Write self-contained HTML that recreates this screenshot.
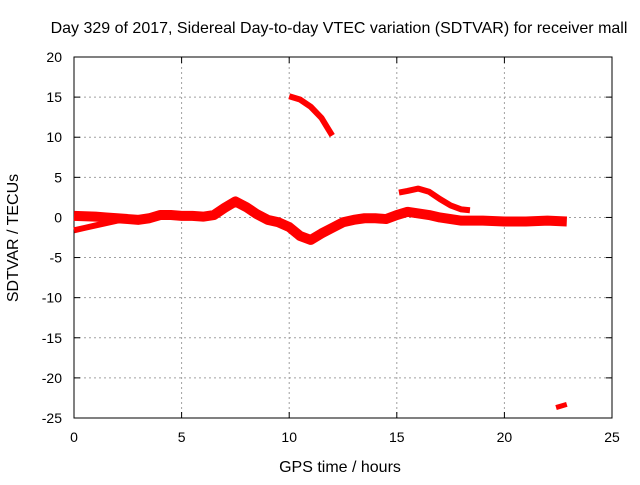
<!DOCTYPE html>
<html><head><meta charset="utf-8"><style>
body{margin:0;background:#fff;}
svg text{font-family:"Liberation Sans",sans-serif;font-size:14px;fill:#000;}
svg text.big{font-size:16px;}
</style></head><body>
<svg id="chart" width="640" height="480">
<rect width="640" height="480" fill="#fff"/>
<text class="big" x="339" y="33" text-anchor="middle">Day 329 of 2017, Sidereal Day-to-day VTEC variation (SDTVAR) for receiver mall</text>
<g id="grid"></g><g id="axes"></g><g id="series"></g>
<text class="big" x="340" y="472" text-anchor="middle">GPS time / hours</text>
<text class="big" transform="translate(18,238) rotate(-90)" text-anchor="middle">SDTVAR / TECUs</text>
</svg>
<script>
const xTicks=[0,5,10,15,20,25];
const yTicks=[20,15,10,5,0,-5,-10,-15,-20,-25];
const mainT=[0,0.5,1,1.5,2,2.5,3,3.5,4,4.5,5,5.5,6,6.5,7,7.5,8,8.5,9,9.5,10,10.5,11,11.5,12,12.5,13,13.5,14,14.5,15,15.5,16,16.5,17,17.5,18,19,20,21,22,22.9];
const mainV=[0.2,0.15,0.1,0,-0.1,-0.2,-0.3,-0.1,0.3,0.3,0.2,0.2,0.1,0.3,1.2,2.0,1.3,0.4,-0.3,-0.6,-1.2,-2.3,-2.8,-2.0,-1.3,-0.6,-0.3,-0.1,-0.1,-0.2,0.3,0.7,0.5,0.3,0,-0.2,-0.4,-0.4,-0.5,-0.5,-0.4,-0.5];
const lowT=[0,0.5,1,1.5,2,2.5];
const lowV=[-1.6,-1.3,-1.0,-0.7,-0.4,-0.3];
const arc1T=[10,10.5,11,11.5,12];
const arc1V=[15.1,14.7,13.8,12.4,10.2];
const arc2T=[15.1,15.5,16,16.5,17,17.5,18,18.4];
const arc2V=[3.1,3.3,3.6,3.2,2.3,1.5,1.0,0.9];
const tailT=[22.4,22.9];
const tailV=[-23.7,-23.3];
const X0=74,X1=612,Y0=57,Y1=418;
const sx=v=>X0+(v-0)/(25-0)*(X1-X0);
const sy=v=>Y0+(20-v)/(20-(-25))*(Y1-Y0);
const NS="http://www.w3.org/2000/svg";
function mk(tag,attrs,parent){const e=document.createElementNS(NS,tag);for(const k in attrs)e.setAttribute(k,attrs[k]);parent.appendChild(e);return e;}
const grid=document.getElementById('grid'),axes=document.getElementById('axes'),series=document.getElementById('series');
xTicks.forEach(t=>{
  if(t>0&&t<25){const l=mk('line',{x1:sx(t),x2:sx(t),y1:Y0,y2:Y1,stroke:'#a0a0a0','stroke-dasharray':'2,3'},grid);
  
  }
  const tx=mk('text',{x:sx(t),y:Y1+24,'text-anchor':'middle'},axes);tx.textContent=t;
  
  
  mk('line',{x1:sx(t),x2:sx(t),y1:Y1,y2:Y1-6,stroke:'#000'},axes);
  mk('line',{x1:sx(t),x2:sx(t),y1:Y0,y2:Y0+6,stroke:'#000'},axes);
});
yTicks.forEach(t=>{
  if(t<20&&t>-25){const l=mk('line',{x1:X0,x2:X1,y1:sy(t),y2:sy(t),stroke:'#a0a0a0','stroke-dasharray':'2,3'},grid);
  
  }
  const tx=mk('text',{x:62,y:sy(t)+5,'text-anchor':'end'},axes);tx.textContent=t;
  
  
  mk('line',{x1:X0,x2:X0+6,y1:sy(t),y2:sy(t),stroke:'#000'},axes);
  mk('line',{x1:X1,x2:X1-6,y1:sy(t),y2:sy(t),stroke:'#000'},axes);
});
const fr=mk('rect',{x:X0,y:Y0,width:X1-X0,height:Y1-Y0,fill:'none',stroke:'#000'},axes);


function line(T,V,w,name){
  const pts=T.map((t,i)=>sx(t)+','+sy(V[i])).join(' ');
  const p=mk('polyline',{points:pts,fill:'none',stroke:'#ff0000','stroke-width':w,'stroke-linejoin':'round'},series);
  
  
}
line(mainT,mainV,10,'series-main');
line(lowT,lowV,6,'series-low-branch');
line(arc1T,arc1V,6,'series-arc-high');
line(arc2T,arc2V,6,'series-arc-mid');
line(tailT,tailV,5,'series-tail');
</script>
</body></html>
